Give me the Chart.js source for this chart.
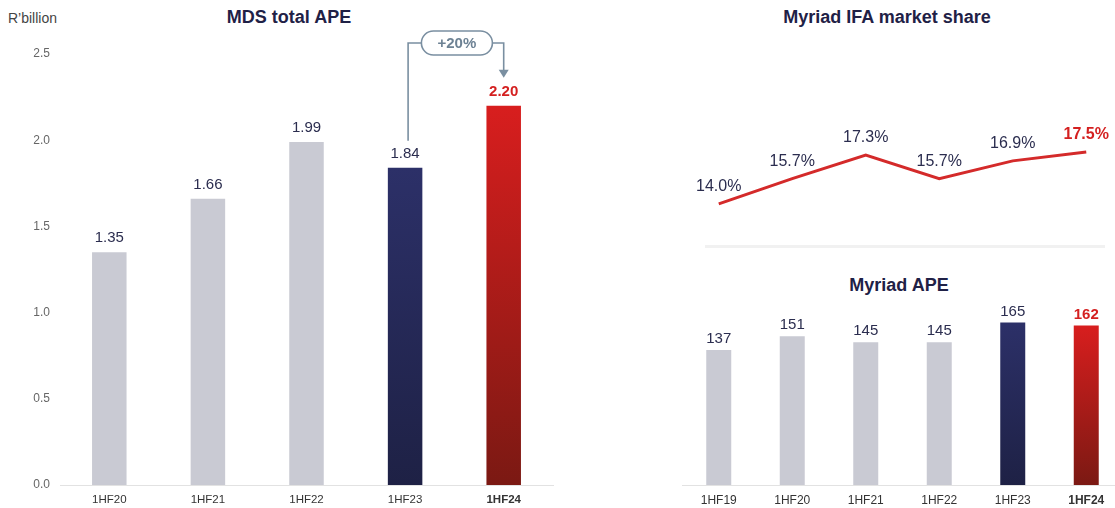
<!DOCTYPE html>
<html>
<head>
<meta charset="utf-8">
<script src="https://cdn.jsdelivr.net/npm/chart.js@4"></script>
<style>
    html, body { margin: 0; padding: 0; background: #fff; }
    body { width: 1115px; height: 508px; position: relative; overflow: hidden; font-family: "Liberation Sans", Arial, sans-serif; }
    canvas { position: absolute; }
    .title { position: absolute; width: 300px; text-align: center; font-size: 18px; font-weight: bold; color: #1f2146; line-height: 22px; }
    .unit { position: absolute; left: 8px; top: 9px; font-size: 14px; color: #444; line-height: 18px; }
    .divider { position: absolute; left: 705px; top: 245px; width: 400px; height: 3px; background: #f1f1f1; }
</style>
</head>
<body>
<div class="unit">R’billion</div>
<div class="title" style="left:139px; top:6px;">MDS total APE</div>
<div class="title" style="left:737px; top:6px;">Myriad IFA market share</div>
<div class="title" style="left:749px; top:274px;">Myriad APE</div>
<div class="divider"></div>

<canvas id="mdsChart" width="560" height="508" style="left:0; top:0; width:560px; height:508px;"></canvas>
<canvas id="shareChart" width="465" height="270" style="left:660px; top:0; width:465px; height:270px;"></canvas>
<canvas id="myriadChart" width="465" height="248" style="left:660px; top:260px; width:465px; height:248px;"></canvas>

<script>
// -------------------------------------------------------------------------- Data

const mdsYears = ['1HF20', '1HF21', '1HF22', '1HF23', '1HF24']
const mdsApe = [1.35, 1.66, 1.99, 1.84, 2.20]
const mdsGrowth = '+20%'

const myriadYears = ['1HF19', '1HF20', '1HF21', '1HF22', '1HF23', '1HF24']
const ifaShare = [14.0, 15.7, 17.3, 15.7, 16.9, 17.5]
const myriadApe = [137, 151, 145, 145, 165, 162]

// -------------------------------------------------------------------------- Colours

const family = '"Liberation Sans", Arial, sans-serif'
const gray = '#c9cad3'
const red = '#d42020'
const labelNavy = '#2b2d4f'
const slate = '#7a8fa1'

Chart.defaults.font.family = family
Chart.defaults.animation = false

function barFill(c) {
    const i = c.dataIndex
    const last = c.dataset.data.length - 1
    if (i < last - 1) return gray
    const chart = c.chart
    const y = chart.scales.y
    if (!y || !chart.chartArea) return i === last ? red : '#262a5a'
    const top = y.getPixelForValue(c.raw)
    const bottom = y.getPixelForValue(0)
    const g = chart.ctx.createLinearGradient(0, top, 0, bottom)
    if (i === last) {
        g.addColorStop(0, '#d81e1e')
        g.addColorStop(1, '#7b1913')
    } else {
        g.addColorStop(0, '#2c3068')
        g.addColorStop(1, '#1e2145')
    }
    return g
}

// value labels above bars / points
function valueLabels(format, size, gap) {
    return {
        id: 'valueLabels',
        afterDatasetsDraw(chart) {
            const ctx = chart.ctx
            const data = chart.data.datasets[0].data
            const last = data.length - 1
            ctx.save()
            ctx.textAlign = 'center'
            ctx.textBaseline = 'middle'
            chart.getDatasetMeta(0).data.forEach((el, i) => {
                const hi = i === last
                ctx.font = (hi ? 'bold ' : '') + size + 'px ' + family
                ctx.fillStyle = hi ? red : labelNavy
                ctx.fillText(format(data[i]), el.x, el.y - gap)
            })
            ctx.restore()
        }
    }
}

// +20% connector between last two bars
const growthArrow = {
    id: 'growthArrow',
    afterDraw(chart) {
        const ctx = chart.ctx
        const x = chart.scales.x
        const y = chart.scales.y
        const n = mdsApe.length
        const x1 = x.getPixelForValue(n - 2) + 3
        const x2 = x.getPixelForValue(n - 1)
        const lineY = chart.chartArea.top - 11
        const from = y.getPixelForValue(mdsApe[n - 2]) - 27
        const tip = y.getPixelForValue(mdsApe[n - 1]) - 28
        const pillW = 71, pillH = 24
        const pillX = (x1 + x2) / 2 - pillW / 2 + 1

        ctx.save()
        ctx.strokeStyle = slate
        ctx.lineWidth = 1.6
        ctx.beginPath()
        ctx.moveTo(x1, from)
        ctx.lineTo(x1, lineY)
        ctx.lineTo(pillX, lineY)
        ctx.moveTo(pillX + pillW, lineY)
        ctx.lineTo(x2, lineY)
        ctx.lineTo(x2, tip - 6)
        ctx.stroke()

        ctx.beginPath()
        ctx.roundRect(pillX, lineY - pillH / 2, pillW, pillH, pillH / 2)
        ctx.stroke()

        ctx.fillStyle = slate
        ctx.beginPath()
        ctx.moveTo(x2 - 5, tip - 8)
        ctx.lineTo(x2 + 5, tip - 8)
        ctx.lineTo(x2, tip)
        ctx.closePath()
        ctx.fill()

        ctx.fillStyle = '#6d8294'
        ctx.font = 'bold 15px ' + family
        ctx.textAlign = 'center'
        ctx.textBaseline = 'middle'
        ctx.fillText(mdsGrowth, pillX + pillW / 2, lineY + 1)
        ctx.restore()
    }
}

function xTickFont(last, size) {
    return c => ({ size: size, weight: c.index === last ? 'bold' : 'normal', family: family })
}

// -------------------------------------------------------------------------- MDS total APE

new Chart(document.getElementById('mdsChart'), {
    type: 'bar',
    data: {
        labels: mdsYears,
        datasets: [{
            data: mdsApe,
            backgroundColor: barFill,
            categoryPercentage: 1,
            barPercentage: 0.35
        }]
    },
    options: {
        responsive: false,
        layout: { padding: { top: 54, right: 7, left: 0, bottom: 0 } },
        plugins: { legend: { display: false }, tooltip: { enabled: false } },
        scales: {
            x: {
                grid: { display: false, drawTicks: false },
                border: { display: true, color: '#e2e2e2', width: 1 },
                ticks: { color: '#333', padding: 8, font: xTickFont(mdsYears.length - 1, 11.5) },
                afterFit: s => { s.height = 23 }
            },
            y: {
                min: 0,
                max: 2.5,
                grid: { display: false, drawTicks: false },
                border: { display: false },
                ticks: { stepSize: 0.5, color: '#666', padding: 10, font: { size: 12 }, callback: v => v.toFixed(1) },
                afterFit: s => { s.width = 60 }
            }
        }
    },
    plugins: [valueLabels(v => v.toFixed(2), 15, 14), growthArrow]
})

// -------------------------------------------------------------------------- Myriad IFA market share

new Chart(document.getElementById('shareChart'), {
    type: 'line',
    data: {
        labels: myriadYears,
        datasets: [{
            data: ifaShare,
            borderColor: '#d42a2a',
            borderWidth: 3,
            pointRadius: 0,
            tension: 0,
            fill: false
        }]
    },
    options: {
        responsive: false,
        layout: { padding: { top: 115, right: 2, left: 22, bottom: 7 } },
        plugins: { legend: { display: false }, tooltip: { enabled: false } },
        scales: {
            x: { display: false, offset: true },
            y: { display: false, min: 10, max: 20 }
        }
    },
    plugins: [valueLabels(v => v.toFixed(1) + '%', 16, 17)]
})

// -------------------------------------------------------------------------- Myriad APE

new Chart(document.getElementById('myriadChart'), {
    type: 'bar',
    data: {
        labels: myriadYears,
        datasets: [{
            data: myriadApe,
            backgroundColor: barFill,
            categoryPercentage: 1,
            barPercentage: 0.34
        }]
    },
    options: {
        responsive: false,
        layout: { padding: { top: 28, right: 2, left: 22, bottom: 0 } },
        plugins: { legend: { display: false }, tooltip: { enabled: false } },
        scales: {
            x: {
                grid: { display: false, drawTicks: false },
                border: { display: true, color: '#e2e2e2', width: 1 },
                ticks: { color: '#333', padding: 8, font: xTickFont(myriadYears.length - 1, 12) },
                afterFit: s => { s.height = 23 }
            },
            y: { display: false, min: 0, max: 200 }
        }
    },
    plugins: [valueLabels(v => String(v), 15, 11)]
})
</script>
</body>
</html>
